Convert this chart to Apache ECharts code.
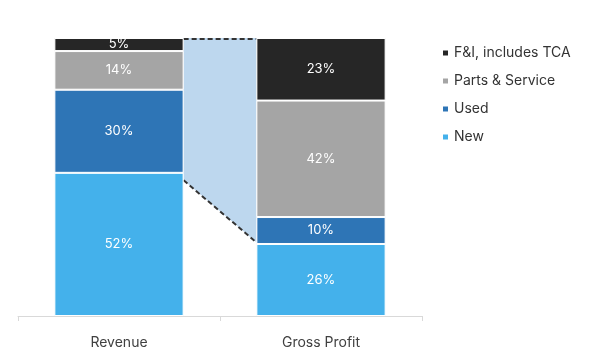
<!DOCTYPE html>
<html><head><meta charset="utf-8">
<script src="https://cdn.jsdelivr.net/npm/echarts@6/dist/echarts.min.js"></script>
<style>html,body{margin:0;padding:0;background:#fff}#c{width:594px;height:363px}</style>
</head><body><div id="c"></div>
<script>
const categories = ['Revenue', 'Gross Profit'];
const newVals = [51.5, 25.9];
const usedVals = [29.9, 9.7];
const partsVals = [13.9, 41.9];
const fiVals = [4.7, 22.5];
const connectorLow = [48.8, 26.5];
const connectorHigh = [100, 100];
const legendNames = ['F&I, includes TCA', 'Parts & Service', 'Used', 'New'];

const FONT = 'Inter, "Noto Sans", sans-serif';
const chart = echarts.init(document.getElementById('c'), null, {renderer: 'canvas'});
const lbl = {show: true, color: '#ffffff', fontSize: 13, fontFamily: FONT,
  formatter: p => Math.round(p.value) + '%'};
function barSeries(name, data, color) {
  return {name, type: 'bar', stack: 'a', data, barWidth: '64%',
    itemStyle: {color, borderColor: '#ffffff', borderWidth: 1},
    label: lbl, emphasis: {disabled: true}, z: 3};
}
chart.setOption({
  animation: false,
  grid: {left: 18, right: 172, top: 38, bottom: 47},
  legend: {
    data: legendNames, orient: 'vertical', left: 436, top: 41,
    icon: 'rect', itemWidth: 7, itemHeight: 7, itemGap: 14,
    textStyle: {fontSize: 14, color: '#333333', fontFamily: FONT}
  },
  xAxis: {
    type: 'category', data: categories,
    axisLine: {lineStyle: {color: '#d9d9d9'}},
    axisTick: {show: true, length: 5, lineStyle: {color: '#d9d9d9'}},
    axisLabel: {fontSize: 14, color: '#404040', fontFamily: FONT, margin: 20}
  },
  yAxis: {type: 'value', min: 0, max: 100, show: false, splitLine: {show: false}},
  series: [
    {
      type: 'custom', name: 'connector', z: 1, silent: true,
      data: [[0, 1]],
      renderItem: function (params, api) {
        const hw = api.size([1, 0])[0] * 0.32;
        const l0 = api.coord([0, connectorLow[0]]);
        const h0 = api.coord([0, connectorHigh[0]]);
        const l1 = api.coord([1, connectorLow[1]]);
        const h1 = api.coord([1, connectorHigh[1]]);
        const xa = l0[0] + hw, xb = l1[0] - hw;
        return {type: 'group', children: [
          {type: 'polygon', shape: {points: [[xa, h0[1]], [xb, h1[1]], [xb, l1[1]], [xa, l0[1]]]},
           style: {fill: '#bdd7ee'}},
          {type: 'line', shape: {x1: xa, y1: h0[1] + 1, x2: xb, y2: h1[1] + 1},
           style: {stroke: '#333333', lineWidth: 2, lineDash: [5, 3]}},
          {type: 'line', shape: {x1: xa, y1: l0[1], x2: xb, y2: l1[1]},
           style: {stroke: '#333333', lineWidth: 2, lineDash: [5, 3]}}
        ]};
      }
    },
    barSeries('New', newVals, '#44b1eb'),
    barSeries('Used', usedVals, '#2e75b6'),
    barSeries('Parts & Service', partsVals, '#a5a5a5'),
    barSeries('F&I, includes TCA', fiVals, '#262626')
  ]
});
</script></body></html>
